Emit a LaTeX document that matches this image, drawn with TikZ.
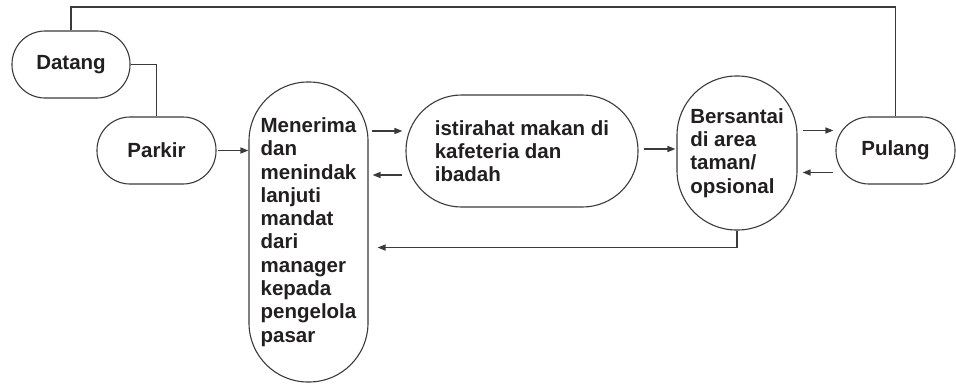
\documentclass[tikz,border=0pt]{standalone}
\usepackage{fontspec}
\setmainfont{Liberation Sans}
\usetikzlibrary{arrows.meta,calc}
\definecolor{ln}{HTML}{3A3A3A}
\definecolor{tx}{HTML}{231F20}
\begin{document}
\begin{tikzpicture}[x=1pt,y=-1pt,
  box/.style={draw=ln,line width=1.1pt,rectangle,inner sep=0pt,align=left,
    text=tx,font=\fontsize{20.5}{23.3}\selectfont\bfseries},
  conn/.style={draw=ln,line width=1.4pt},
  arr/.style={conn,-{Triangle[length=8pt,width=6pt]}}]
\useasboundingbox (0,0) rectangle (956,383);
\node[box,minimum width=118pt,minimum height=67pt,rounded corners=33pt] (datang) at (71,64.5) {Datang};
\node[box,minimum width=119pt,minimum height=67pt,rounded corners=33pt] (parkir) at (156.5,150.5) {Parkir};
\node[box,minimum width=119pt,minimum height=300pt,rounded corners=59pt] (menerima) at (308.5,232) {Menerima\\dan\\menindak\\lanjuti\\mandat\\dari\\manager\\kepada\\pengelola\\pasar};
\node[box,minimum width=232pt,minimum height=112pt,rounded corners=55.5pt] (istirahat) at (522,151) {istirahat makan di\\kafeteria dan\\ibadah};
\node[box,minimum width=120pt,minimum height=154pt,rounded corners=59.5pt] (bersantai) at (737,153) {Bersantai\\di area\\taman/\\opsional};
\node[box,minimum width=119pt,minimum height=67pt,rounded corners=33pt] (pulang) at (895.5,150.5) {Pulang};
\coordinate (top) at (480,7);
% connectors
\draw[conn] (datang.north) |- (top) -| (pulang.north);
\draw[conn] (datang.east) -| (parkir.north);
\draw[arr] ($(parkir.east)+(1,0)$) -- (menerima.west |- parkir.east);
\draw[arr] ($(menerima.east |- istirahat.west)+(3,-20)$) -- ($(istirahat.west)+(-3,-20)$);
\draw[arr] ($(istirahat.west)+(-3,24)$) -- ($(menerima.east |- istirahat.west)+(4,24)$);
\draw[arr] ($(istirahat.east)+(5,-2)$) -- ($(bersantai.west |- istirahat.east)+(-1,-2)$);
\draw[arr] ($(bersantai.east |- pulang.west)+(5,-20)$) -- ($(pulang.west)+(-2,-20)$);
\draw[arr] ($(pulang.west)+(-2,22)$) -- ($(bersantai.east |- pulang.west)+(5,22)$);
\draw[arr] (bersantai.south) |- ($(menerima.east |- bersantai.south)+(9,17)$);
\end{tikzpicture}
\end{document}
